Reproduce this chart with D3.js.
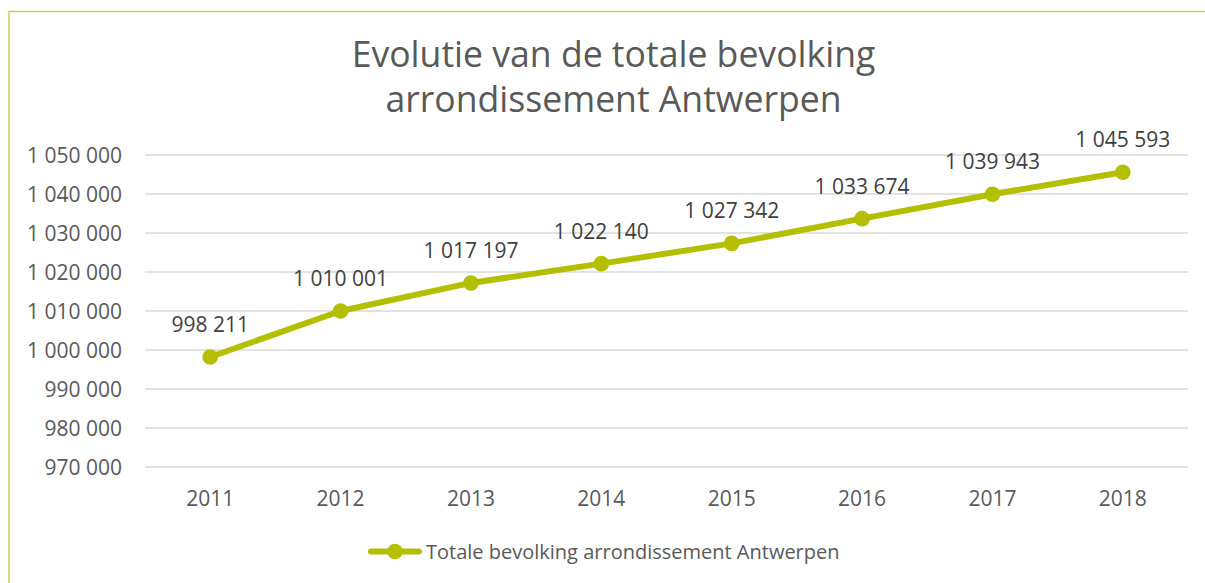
<!DOCTYPE html>
<html><head><meta charset="utf-8">
<script src="https://cdn.jsdelivr.net/npm/d3@7"></script>
<style>body{margin:0;background:#fff}svg{display:block}</style>
</head><body>
<svg id="c" width="1205" height="583"></svg>
<script>
const years = ["2011","2012","2013","2014","2015","2016","2017","2018"];
const population = [998211,1010001,1017197,1022140,1027342,1033674,1039943,1045593];
const yTicks = [970000,980000,990000,1000000,1010000,1020000,1030000,1040000,1050000];
const titleLines = ["Evolutie van de totale bevolking","arrondissement Antwerpen"];
const seriesName = "Totale bevolking arrondissement Antwerpen";

const font = "'Open Sans', 'Noto Sans', sans-serif";
const green = "#b3bf00";
const svg = d3.select("#c");
const fmt = v => d3.format(",")(v).replace(/,/g," ");

svg.append("rect").attr("x",9).attr("y",11.5).attr("width",1300).attr("height",700)
  .attr("fill","#fff").attr("stroke","#c4cf5a").attr("stroke-width",1.5);

const x = d3.scaleBand().domain(years).range([145,1188]);
const y = d3.scaleLinear().domain([970000,1050000]).range([467,155]);

svg.append("g").selectAll("line").data(yTicks).join("line")
  .attr("x1",145).attr("x2",1188).attr("y1",d=>y(d)).attr("y2",d=>y(d))
  .attr("stroke","#d9d9d9").attr("stroke-width",1.3);

svg.append("g").selectAll("text").data(yTicks).join("text")
  .attr("x",122).attr("y",d=>y(d)).attr("dy","0.36em").attr("text-anchor","end")
  .attr("font-family",font).attr("font-size",21).attr("fill","#595959").text(fmt);

svg.append("g").selectAll("text").data(years).join("text")
  .attr("x",d=>x(d)+x.bandwidth()/2).attr("y",506).attr("text-anchor","middle")
  .attr("font-family",font).attr("font-size",21).attr("fill","#595959").text(d=>d);

svg.append("g").selectAll("text").data(titleLines).join("text")
  .attr("x",613.5).attr("y",(d,i)=>67+i*44.5).attr("text-anchor","middle")
  .attr("font-family",font).attr("font-size",35.6).attr("fill","#595959").text(d=>d);

const cx = (d,i)=>x(years[i])+x.bandwidth()/2;
const line = d3.line().x(cx).y(d=>y(d));
svg.append("path").datum(population).attr("d",line).attr("fill","none")
  .attr("stroke",green).attr("stroke-width",6).attr("stroke-linejoin","round");
svg.append("g").selectAll("circle").data(population).join("circle")
  .attr("cx",cx).attr("cy",d=>y(d)).attr("r",7.8).attr("fill",green);

svg.append("g").selectAll("text").data(population).join("text")
  .attr("x",cx).attr("y",d=>y(d)-25).attr("text-anchor","middle")
  .attr("font-family",font).attr("font-size",21).attr("fill","#404040").text(fmt);

const lg = svg.append("g");
lg.append("line").attr("x1",371).attr("x2",419).attr("y1",551.5).attr("y2",551.5)
  .attr("stroke",green).attr("stroke-width",6).attr("stroke-linecap","round");
lg.append("circle").attr("cx",395).attr("cy",551.5).attr("r",7.8).attr("fill",green);
lg.append("text").attr("x",426).attr("y",551.5).attr("dy","0.36em")
  .attr("font-family",font).attr("font-size",20).attr("fill","#595959").text(seriesName);
</script>
</body></html>
